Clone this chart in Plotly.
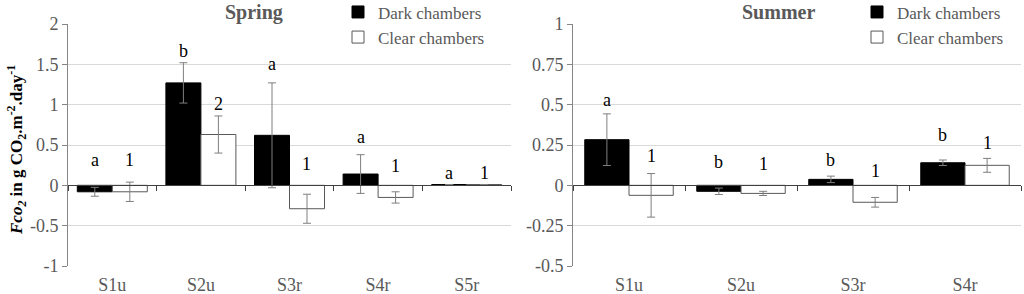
import plotly.graph_objects as go

# ---- data ----
spring_sites = ["S1u", "S2u", "S3r", "S4r", "S5r"]
spring_dark = [-0.08, 1.27, 0.62, 0.14, 0.01]
spring_dark_err = [0.055, 0.25, 0.65, 0.24, 0.0]
spring_clear = [-0.08, 0.63, -0.29, -0.15, 0.01]
spring_clear_err = [0.12, 0.23, 0.18, 0.07, 0.0]
spring_dark_letters = ["a", "b", "a", "a", "a"]
spring_dark_letter_y = [0.31, 1.67, 1.50, 0.60, 0.15]
spring_clear_letters = ["1", "2", "1", "1", "1"]
spring_clear_letter_y = [0.31, 1.01, 0.27, 0.24, 0.15]

summer_sites = ["S1u", "S2u", "S3r", "S4r"]
summer_dark = [0.283, -0.037, 0.037, 0.14]
summer_dark_err = [0.16, 0.02, 0.02, 0.017]
summer_clear = [-0.062, -0.05, -0.105, 0.124]
summer_clear_err = [0.135, 0.013, 0.03, 0.043]
summer_dark_letters = ["a", "b", "b", "b"]
summer_dark_letter_y = [0.53, 0.145, 0.16, 0.31]
summer_clear_letters = ["1", "1", "1", "1"]
summer_clear_letter_y = [0.18, 0.135, 0.09, 0.26]

spring_yticks = [-1, -0.5, 0, 0.5, 1, 1.5, 2]
summer_yticks = [-0.5, -0.25, 0, 0.25, 0.5, 0.75, 1]

W, H = 1024, 294
FONT = "Liberation Serif"
GRAY = "#595959"
BARGAP = 0.21

dom_spring = [68 / W, 511 / W]
dom_summer = [573 / W, 1021 / W]
dom_y = [1 - 266 / H, 1 - 24 / H]
zero_pos = dom_y[0] + (dom_y[1] - dom_y[0]) / 3

fig = go.Figure()

def add_panel(sites, dark, dark_err, clear, clear_err, xa, ya, legend):
    err_style = dict(type="data", color="#7f7f7f", thickness=1, width=4)
    fig.add_trace(go.Bar(x=sites, y=dark, name="Dark chambers",
                         marker=dict(color="black", line=dict(color="black", width=1)),
                         error_y=dict(array=dark_err, **err_style),
                         xaxis=xa, yaxis=ya, legend=legend))
    fig.add_trace(go.Bar(x=sites, y=clear, name="Clear chambers",
                         marker=dict(color="white", line=dict(color="#595959", width=1)),
                         error_y=dict(array=clear_err, **err_style),
                         xaxis=xa, yaxis=ya, legend=legend))

add_panel(spring_sites, spring_dark, spring_dark_err, spring_clear, spring_clear_err, "x", "y", "legend")
add_panel(summer_sites, summer_dark, summer_dark_err, summer_clear, summer_clear_err, "x2", "y2", "legend2")

# dummy traces for overlay zero axes
fig.add_trace(go.Scatter(x=spring_sites, y=[None] * len(spring_sites), xaxis="x3", yaxis="y",
                         showlegend=False, hoverinfo="skip"))
fig.add_trace(go.Scatter(x=summer_sites, y=[None] * len(summer_sites), xaxis="x4", yaxis="y2",
                         showlegend=False, hoverinfo="skip"))

annotations = []
def letters(sites, dark_l, dark_y, clear_l, clear_y, xref, yref, dom):
    cat_px = (dom[1] - dom[0]) * W / len(sites)
    half_bar = cat_px * (1 - BARGAP) / 4
    for s, l, y in zip(sites, dark_l, dark_y):
        annotations.append(dict(x=s, y=y, xref=xref, yref=yref, text=l, showarrow=False,
                                xshift=-half_bar, font=dict(family=FONT, size=18, color="black")))
    for s, l, y in zip(sites, clear_l, clear_y):
        annotations.append(dict(x=s, y=y, xref=xref, yref=yref, text=l, showarrow=False,
                                xshift=half_bar, font=dict(family=FONT, size=18, color="black")))

letters(spring_sites, spring_dark_letters, spring_dark_letter_y, spring_clear_letters,
        spring_clear_letter_y, "x", "y", dom_spring)
letters(summer_sites, summer_dark_letters, summer_dark_letter_y, summer_clear_letters,
        summer_clear_letter_y, "x2", "y2", dom_summer)

title_font = dict(family=FONT, size=20, color=GRAY)
annotations.append(dict(x=254 / W, y=1 - 12 / H, xref="paper", yref="paper", text="<b>Spring</b>",
                        xanchor="center", yanchor="middle", showarrow=False, font=title_font))
annotations.append(dict(x=778 / W, y=1 - 12 / H, xref="paper", yref="paper", text="<b>Summer</b>",
                        xanchor="center", yanchor="middle", showarrow=False, font=title_font))
annotations.append(dict(x=16 / W, y=1 - 150 / H, xref="paper", yref="paper", textangle=-90,
                        xanchor="center", yanchor="middle",
                        text="<b><i>Fco</i><sub><i>2</i></sub> in g CO<sub>2</sub>.m<sup>-2</sup>.day<sup>-1</sup></b>",
                        showarrow=False, font=dict(family=FONT, size=17, color="black")))

xbase = dict(type="category", showline=False, ticks="", showgrid=False, zeroline=False,
             tickfont=dict(family=FONT, size=18, color=GRAY), automargin=False,
             ticklabelstandoff=6)
ybase = dict(showline=True, linecolor="#868686", linewidth=1, ticks="outside", ticklen=5,
             tickcolor="#868686", showgrid=True, gridcolor="#d9d9d9", gridwidth=1, zeroline=False,
             tickfont=dict(family=FONT, size=18, color=GRAY), automargin=False)
zbase = dict(type="category", showline=True, linecolor="#404040", linewidth=1, ticks="outside",
             tickson="boundaries", ticklen=5, tickcolor="#404040", showticklabels=False,
             showgrid=False, zeroline=False, anchor="free", position=zero_pos, automargin=False)

legend_font = dict(family=FONT, size=17, color=GRAY)
fig.update_layout(
    width=W, height=H,
    margin=dict(l=0, r=0, t=0, b=0, autoexpand=False),
    paper_bgcolor="white", plot_bgcolor="white",
    barmode="group", bargap=BARGAP, bargroupgap=0,
    showlegend=True,
    font=dict(family=FONT),
    xaxis=dict(domain=dom_spring, anchor="y", range=[-0.5, 4.5], **xbase),
    xaxis2=dict(domain=dom_summer, anchor="y2", range=[-0.5, 3.5], **xbase),
    xaxis3=dict(overlaying="x", domain=dom_spring, range=[-0.5, 4.5],
                categoryarray=spring_sites, **zbase),
    xaxis4=dict(overlaying="x2", domain=dom_summer, range=[-0.5, 3.5],
                categoryarray=summer_sites, **zbase),
    yaxis=dict(domain=dom_y, anchor="x", range=[-1, 2], tickvals=spring_yticks,
               ticktext=[f"{v:g}" for v in spring_yticks], **ybase),
    yaxis2=dict(domain=dom_y, anchor="x2", range=[-0.5, 1], tickvals=summer_yticks,
                ticktext=[f"{v:g}" for v in summer_yticks], **ybase),
    legend=dict(x=338 / W, y=1.019, xanchor="left", yanchor="top", bgcolor="rgba(0,0,0,0)",
                font=legend_font, itemwidth=30, tracegroupgap=0),
    legend2=dict(x=857 / W, y=1.019, xanchor="left", yanchor="top", bgcolor="rgba(0,0,0,0)",
                 font=legend_font, itemwidth=30, tracegroupgap=0),
    annotations=annotations,
)

fig.write_html("out.html", config={"displayModeBar": False},
               post_script="document.body.style.margin='0';")
